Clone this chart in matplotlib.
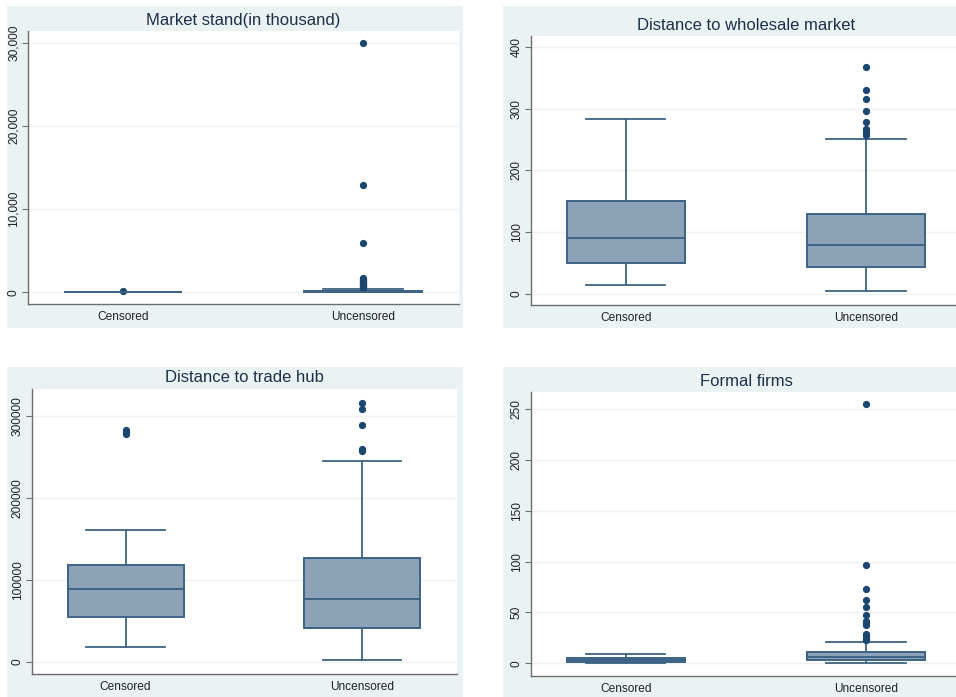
import matplotlib
matplotlib.use("Agg")
import matplotlib.pyplot as plt
from matplotlib.patches import Rectangle
from matplotlib.ticker import FuncFormatter

plt.rcParams['font.family'] = ['Liberation Sans', 'DejaVu Sans']

groups = ["Censored", "Uncensored"]

# Market stand (in thousand)
market_stats = [
    dict(q1=5, med=15, q3=35, whislo=0, whishi=70, fliers=[150]),
    dict(q1=15, med=60, q3=180, whislo=0, whishi=420,
         fliers=[520, 610, 700, 780, 860, 950, 1050, 1150, 1250, 1380,
                 1500, 1650, 1780, 5950, 12950, 30000]),
]

# Distance to wholesale market
wholesale_stats = [
    dict(q1=50, med=91, q3=151, whislo=14, whishi=284, fliers=[]),
    dict(q1=44, med=78.5, q3=129, whislo=5, whishi=250.5,
         fliers=[258, 263, 268, 278, 296, 316, 330, 367]),
]

# Distance to trade hub
tradehub_stats = [
    dict(q1=54000, med=89000, q3=118000, whislo=17500, whishi=161000,
         fliers=[278000, 281000, 283500]),
    dict(q1=41000, med=76000, q3=126500, whislo=2000, whishi=245500,
         fliers=[257500, 260000, 289500, 308000, 316500]),
]

# Formal firms
formal_stats = [
    dict(q1=1.3, med=3, q3=5, whislo=0, whishi=9.2, fliers=[]),
    dict(q1=3.6, med=6.6, q3=11.1, whislo=0, whishi=21,
         fliers=[23, 24, 26.5, 29, 37.5, 40, 42, 48, 55.7, 62.3, 72.8, 97, 255.5]),
]

titles = ["Market stand(in thousand)", "Distance to wholesale market",
          "Distance to trade hub", "Formal firms"]
all_stats = [market_stats, wholesale_stats, tradehub_stats, formal_stats]
yticks = [[0, 10000, 20000, 30000], [0, 100, 200, 300, 400],
          [0, 100000, 200000, 300000], [0, 50, 100, 150, 200, 250]]
ylims = [(-1410, 31480), (-18, 418), (-15000, 333000), (-12.5, 267)]
comma = [True, False, False, False]

W, H = 956, 697
fig = plt.figure(figsize=(W / 100, H / 100), dpi=100)
fig.patch.set_facecolor("white")

BG = "#eaf2f3"
FILL = "#8ca3b7"
EDGE = "#3d6384"
DOT = "#1a476f"

# panel backgrounds (pixel boxes: x0, y0, x1, y1)
bgs = [(7, 6, 463, 328), (503, 6, 966, 328), (7, 367, 463, 700), (503, 367, 966, 700)]
# plot regions (pixel boxes)
regions = [(28, 31, 459, 304), (531, 36, 962, 305), (32, 389, 457, 674), (531, 392, 962, 676)]
title_y = [21, 25, 378, 381]

def fx(px):
    return px / W

def fy(py):
    return 1 - py / H

for x0, y0, x1, y1 in bgs:
    fig.patches.append(Rectangle((fx(x0), fy(y1)), fx(x1) - fx(x0), fy(y0) - fy(y1),
                                 transform=fig.transFigure, facecolor=BG,
                                 edgecolor="none", zorder=-10))

for i, stats in enumerate(all_stats):
    x0, y0, x1, y1 = regions[i]
    ax = fig.add_axes([fx(x0), fy(y1), fx(x1) - fx(x0), fy(y0) - fy(y1)])
    ax.set_facecolor("white")
    for s, lab in zip(stats, groups):
        s["label"] = lab
    ax.bxp(stats, positions=[1, 2], widths=0.49, capwidths=0.33,
           patch_artist=True, showfliers=True,
           boxprops=dict(facecolor=FILL, edgecolor=EDGE, linewidth=1.4),
           medianprops=dict(color=EDGE, linewidth=1.4),
           whiskerprops=dict(color=EDGE, linewidth=1.3),
           capprops=dict(color=EDGE, linewidth=1.3),
           flierprops=dict(marker="o", markerfacecolor=DOT, markeredgecolor=DOT,
                           markersize=4.2, linestyle="none"))
    ax.set_xlim(0.605, 2.40)
    ax.set_ylim(*ylims[i])
    ax.set_yticks(yticks[i])
    if comma[i]:
        ax.yaxis.set_major_formatter(FuncFormatter(lambda v, p: f"{int(v):,}"))
    ax.grid(axis="y", color=BG, linewidth=1.0)
    ax.set_axisbelow(True)
    for side in ("top", "right"):
        ax.spines[side].set_visible(False)
    for side in ("left", "bottom"):
        ax.spines[side].set_color("#6e6e6e")
        ax.spines[side].set_linewidth(1.0)
    ax.tick_params(axis="y", length=4, width=0.8, color="#6e6e6e", labelsize=8.6,
                   labelcolor="#222222", pad=2)
    ax.tick_params(axis="x", length=0, labelsize=8.6, labelcolor="#222222", pad=5)
    for t in ax.get_yticklabels():
        t.set_rotation(90)
        t.set_va("center")
    fig.text((fx(x0) + fx(x1)) / 2, fy(title_y[i]), titles[i], ha="center", va="center",
             fontsize=12, color="#1f2f4a")

fig.savefig("out.png", dpi=100, facecolor="white")
